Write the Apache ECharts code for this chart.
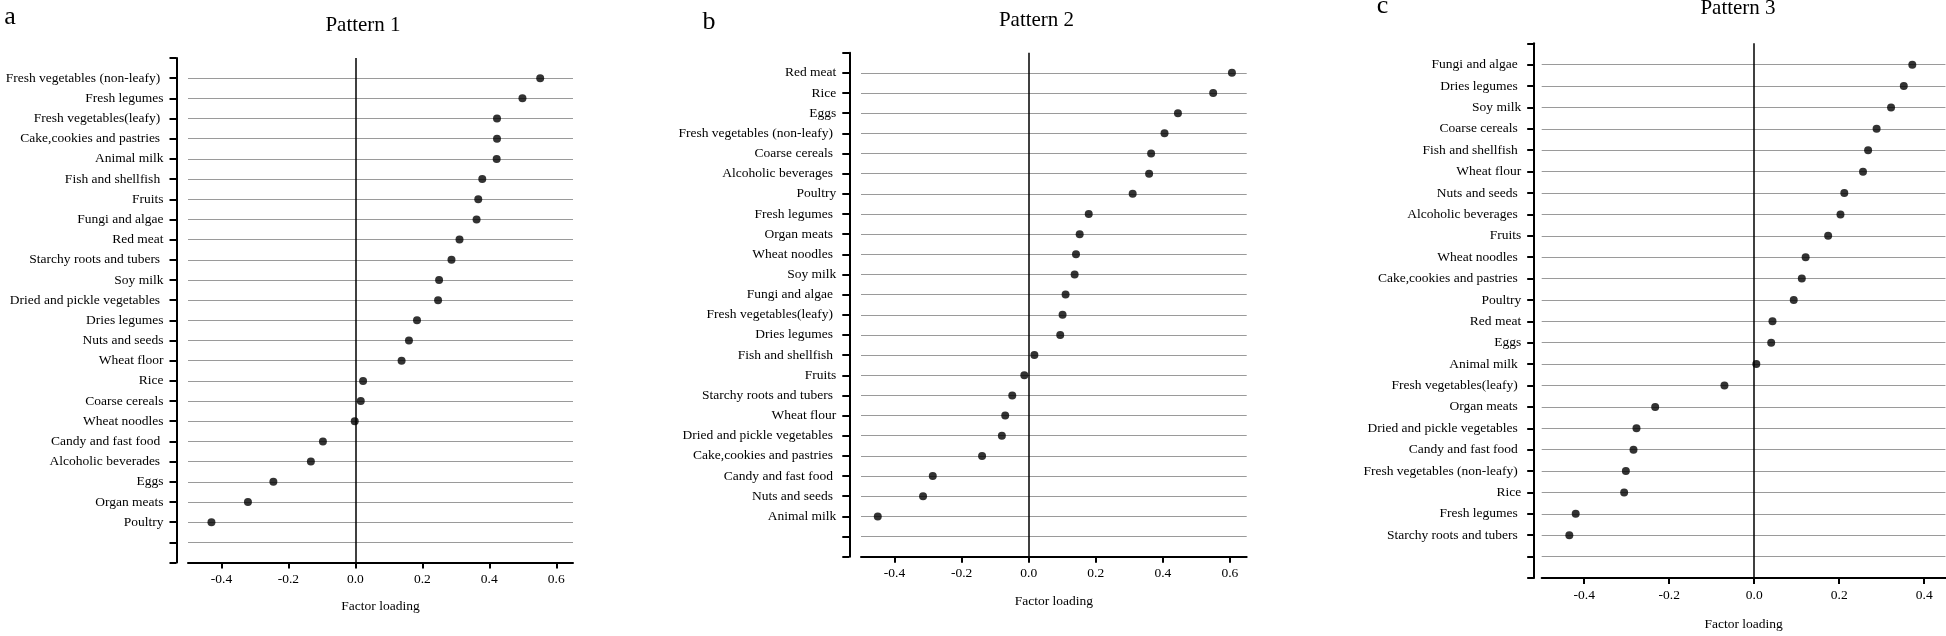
<!DOCTYPE html>
<html>
<head>
<meta charset="utf-8">
<script src="https://cdn.jsdelivr.net/npm/echarts@6/dist/echarts.min.js"></script>
<style>
html,body{margin:0;padding:0;background:#fff;}
#chart{width:1946px;height:636px;}
</style>
</head>
<body>
<div id="chart"></div>
<script>
// ---------- DATA ----------
const panelLetters = ['a', 'b', 'c'];
const panelTitles = ['Pattern 1', 'Pattern 2', 'Pattern 3'];
const axisTitle = 'Factor loading';
const xTickValues = [-0.4, -0.2, 0.0, 0.2, 0.4, 0.6];

const foodsP1 = ['Fresh vegetables (non-leafy) ', 'Fresh legumes', 'Fresh vegetables(leafy) ', 'Cake,cookies and pastries ',
  'Animal milk', 'Fish and shellfish ', 'Fruits', 'Fungi and algae', 'Red meat', 'Starchy roots and tubers ',
  'Soy milk', 'Dried and pickle vegetables ', 'Dries legumes', 'Nuts and seeds', 'Wheat floor', 'Rice',
  'Coarse cereals', 'Wheat noodles', 'Candy and fast food ', 'Alcoholic beverades ', 'Eggs', 'Organ meats', 'Poultry'];
const loadingsP1 = [0.552, 0.499, 0.423, 0.423, 0.422, 0.379, 0.367, 0.362, 0.311, 0.287, 0.250, 0.247,
  0.184, 0.160, 0.138, 0.023, 0.016, -0.002, -0.097, -0.133, -0.245, -0.321, -0.430];

const foodsP2 = ['Red meat', 'Rice', 'Eggs', 'Fresh vegetables (non-leafy) ', 'Coarse cereals ', 'Alcoholic beverages ',
  'Poultry', 'Fresh legumes ', 'Organ meats ', 'Wheat noodles ', 'Soy milk', 'Fungi and algae ', 'Fresh vegetables(leafy) ',
  'Dries legumes ', 'Fish and shellfish ', 'Fruits', 'Starchy roots and tubers ', 'Wheat flour', 'Dried and pickle vegetables ',
  'Cake,cookies and pastries ', 'Candy and fast food ', 'Nuts and seeds ', 'Animal milk'];
const loadingsP2 = [0.606, 0.550, 0.445, 0.405, 0.365, 0.359, 0.310, 0.179, 0.152, 0.141, 0.137, 0.110, 0.101,
  0.094, 0.017, -0.013, -0.049, -0.070, -0.080, -0.139, -0.286, -0.315, -0.450];

const foodsP3 = ['Fungi and algae ', 'Dries legumes ', 'Soy milk', 'Coarse cereals ', 'Fish and shellfish ', 'Wheat flour',
  'Nuts and seeds ', 'Alcoholic beverages ', 'Fruits', 'Wheat noodles ', 'Cake,cookies and pastries ', 'Poultry',
  'Red meat', 'Eggs', 'Animal milk ', 'Fresh vegetables(leafy) ', 'Organ meats ', 'Dried and pickle vegetables ',
  'Candy and fast food ', 'Fresh vegetables (non-leafy) ', 'Rice', 'Fresh legumes ', 'Starchy roots and tubers '];
const loadingsP3 = [0.372, 0.352, 0.322, 0.288, 0.268, 0.256, 0.212, 0.203, 0.174, 0.121, 0.112, 0.093,
  0.043, 0.040, 0.005, -0.070, -0.233, -0.277, -0.284, -0.302, -0.306, -0.420, -0.435];

const xMin = [-0.5, -0.5, -0.5];
const xMax = [0.65, 0.65, 0.45];

// ---------- LAYOUT (positions / styles only) ----------
const FONT = '"Liberation Serif", "Times New Roman", serif';
const layout = [
  {left: 188, width: 385, top: 58, height: 504.5, yOffset: 11.5, title: [363, 25], letter: [10, 17], nameGap: 37},
  {left: 861, width: 385.7, top: 52.7, height: 504, yOffset: 11.7, title: [1036.5, 20], letter: [709, 22], nameGap: 38},
  {left: 1541.7, width: 403.75, top: 43.3, height: 538.7, yOffset: 7.5, title: [1738, 8], letter: [1382.5, 6], nameGap: 39}
];
const foods = [foodsP1, foodsP2, foodsP3];
const loads = [loadingsP1, loadingsP2, loadingsP3];

const chart = echarts.init(document.getElementById('chart'), null, {renderer: 'canvas'});

const grids = [], xAxes = [], yAxes = [], series = [], graphics = [];
for (let p = 0; p < 3; p++) {
  const L = layout[p];
  grids.push({left: L.left, top: L.top, width: L.width, height: L.height, containLabel: false});
  const cats = [' '].concat(foods[p]).concat(['  ', '   ']);
  xAxes.push({
    gridIndex: p, type: 'value', min: xMin[p], max: xMax[p],
    name: axisTitle, nameLocation: 'middle', nameGap: L.nameGap,
    nameTextStyle: {fontFamily: FONT, fontSize: 13.5, color: '#000'},
    axisLine: {show: true, onZero: false, lineStyle: {color: '#000', width: 2}},
    axisTick: {show: true, length: 6, lineStyle: {color: '#000', width: 2}, customValues: xTickValues},
    axisLabel: {show: true, margin: 10, fontFamily: FONT, fontSize: 13.5, color: '#000',
      customValues: xTickValues, formatter: v => v.toFixed(1)},
    splitLine: {show: false}
  });
  yAxes.push({
    gridIndex: p, type: 'category', data: cats, inverse: true, boundaryGap: false,
    offset: L.yOffset,
    axisLine: {show: true, onZero: false, lineStyle: {color: '#000', width: 2}},
    axisTick: {show: true, interval: 0, length: 7, lineStyle: {color: '#000', width: 2}},
    axisLabel: {show: true, interval: 0, margin: 13, fontFamily: FONT, fontSize: 13.5, color: '#000'},
    splitLine: {show: true, interval: (idx) => idx >= 1 && idx <= cats.length - 2,
      lineStyle: {color: '#9a9a9a', width: 1}}
  });
  series.push({
    type: 'scatter', xAxisIndex: p, yAxisIndex: p, symbol: 'circle', symbolSize: 8,
    itemStyle: {color: '#000'}, silent: true, animation: false,
    data: loads[p].map((v, i) => [v, i + 1]),
    markLine: {
      silent: true, symbol: 'none', animation: false,
      label: {show: false},
      lineStyle: {color: '#000', width: 1.5, type: 'solid'},
      data: [{xAxis: 0}]
    }
  });
  graphics.push({
    type: 'text', x: L.title[0], y: L.title[1],
    style: {text: panelTitles[p], font: '21px ' + FONT, fill: '#000', textAlign: 'center', textVerticalAlign: 'middle'}
  });
  graphics.push({
    type: 'text', x: L.letter[0], y: L.letter[1],
    style: {text: panelLetters[p], font: '26px ' + FONT, fill: '#000', textAlign: 'center', textVerticalAlign: 'middle'}
  });
}

chart.setOption({
  animation: false,
  backgroundColor: '#fff',
  grid: grids, xAxis: xAxes, yAxis: yAxes, series: series, graphic: graphics
});
</script>
</body>
</html>
